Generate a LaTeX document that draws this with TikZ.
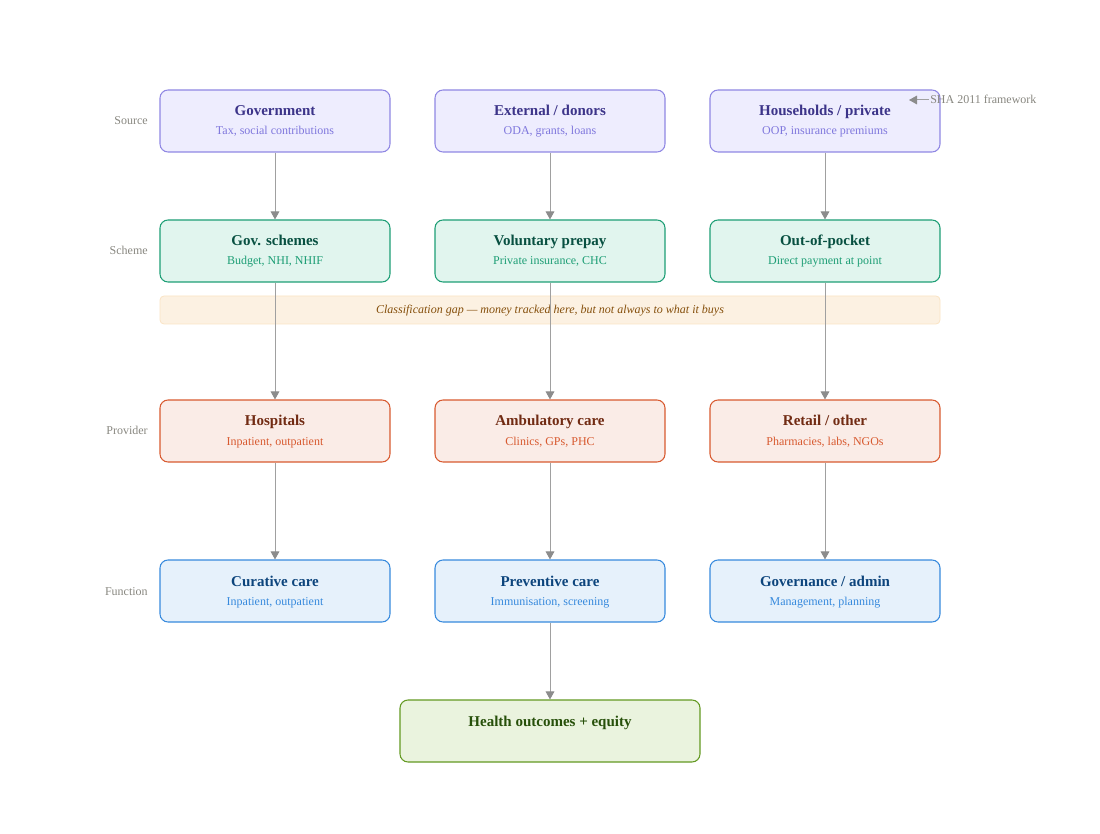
\documentclass[tikz,border=0pt]{standalone}
\usepackage{fontspec}
\setmainfont{Liberation Serif}
\usetikzlibrary{arrows.meta}
\definecolor{srcfill}{HTML}{EEEDFE}\definecolor{srcdraw}{HTML}{8F87E3}\definecolor{srctitle}{HTML}{3C3489}\definecolor{srcsub}{HTML}{7F77DD}
\definecolor{schfill}{HTML}{E1F5EE}\definecolor{schdraw}{HTML}{1D9E75}\definecolor{schtitle}{HTML}{085041}\definecolor{schsub}{HTML}{1D9E75}
\definecolor{provfill}{HTML}{FAECE7}\definecolor{provdraw}{HTML}{D85A30}\definecolor{provtitle}{HTML}{712B13}\definecolor{provsub}{HTML}{D85A30}
\definecolor{funfill}{HTML}{E6F1FB}\definecolor{fundraw}{HTML}{378ADD}\definecolor{funtitle}{HTML}{0C447C}\definecolor{funsub}{HTML}{378ADD}
\definecolor{outfill}{HTML}{EAF3DE}\definecolor{outdraw}{HTML}{639922}\definecolor{outtitle}{HTML}{27500A}\definecolor{outsub}{HTML}{639922}
\definecolor{gapfill}{HTML}{FCF1E2}\definecolor{gapdraw}{HTML}{FAE3C4}\definecolor{gaptext}{HTML}{854F0B}
\definecolor{lblgray}{HTML}{888780}\definecolor{arrgray}{HTML}{8C8C8C}\definecolor{linegray}{HTML}{A0A0A0}
\tikzset{
  box/.style={rounded corners=6pt, line width=0.8pt, minimum width=172.5pt, minimum height=46.5pt, inner sep=0pt},
  ttl/.style={font=\fontsize{11.25}{13}\selectfont\bfseries, anchor=base, inner sep=0pt},
  sub/.style={font=\fontsize{9}{11}\selectfont, anchor=base, inner sep=0pt},
  lbl/.style={font=\fontsize{9}{11}\selectfont, text=lblgray, anchor=base east, inner sep=0pt},
  flow/.style={draw=linegray, line width=0.75pt, -{Triangle[length=6pt,width=6.5pt,color=arrgray]}},
}
% #1 name, #2 colour prefix, #3 centre x, #4 top y, #5 title, #6 subtitle
\newcommand{\mybox}[6]{%
  \node[box, draw=#2draw, fill=#2fill] (#1) at (#3,#4+31) {};
  \node[ttl, text=#2title] (#1t) at (#3,#4+26) {#5};
  \node[sub, text=#2sub] (#1s) at (#3,#4+45) {#6};
}
\begin{document}
\begin{tikzpicture}[x=0.75pt,y=-0.75pt]
\useasboundingbox (0,0) rectangle (1100,834);
% gap band
\node[draw=gapdraw, fill=gapfill, rounded corners=3pt, line width=0.6pt, minimum width=585pt, minimum height=21pt, inner sep=0pt] (gap) at (550,310) {};
\node[font=\fontsize{9}{11}\selectfont\itshape, text=gaptext, anchor=base, inner sep=0pt] (gaptxt) at (550,313.5) {Classification gap — money tracked here, but not always to what it buys};
% row labels
\node[lbl] (lsrc) at (148,125) {Source};
\node[lbl] (lsch) at (148,255) {Scheme};
\node[lbl] (lprov) at (148,435) {Provider};
\node[lbl] (lfun) at (148,595) {Function};
% boxes
\mybox{gov}{src}{275}{90}{Government}{Tax, social contributions}
\mybox{ext}{src}{550}{90}{External / donors}{ODA, grants, loans}
\mybox{hh}{src}{825}{90}{Households / private}{OOP, insurance premiums}
\mybox{gs}{sch}{275}{220}{Gov. schemes}{Budget, NHI, NHIF}
\mybox{vp}{sch}{550}{220}{Voluntary prepay}{Private insurance, CHC}
\mybox{oop}{sch}{825}{220}{Out-of-pocket}{Direct payment at point}
\mybox{hos}{prov}{275}{400}{Hospitals}{Inpatient, outpatient}
\mybox{amb}{prov}{550}{400}{Ambulatory care}{Clinics, GPs, PHC}
\mybox{ret}{prov}{825}{400}{Retail / other}{Pharmacies, labs, NGOs}
\mybox{cur}{fun}{275}{560}{Curative care}{Inpatient, outpatient}
\mybox{pre}{fun}{550}{560}{Preventive care}{Immunisation, screening}
\mybox{gva}{fun}{825}{560}{Governance / admin}{Management, planning}
\node[box, draw=outdraw, fill=outfill, minimum width=225pt] (out) at (550,731) {};
\node[ttl, text=outtitle] (outt) at (550,726) {Health outcomes + equity};
% connectors
\draw[flow] (gov) -- (gs);
\draw[flow] (ext) -- (vp);
\draw[flow] (hh) -- (oop);
\draw[flow] (gs) -- (hos);
\draw[flow] (vp) -- (amb);
\draw[flow] (oop) -- (ret);
\draw[flow] (hos) -- (cur);
\draw[flow] (amb) -- (pre);
\draw[flow] (ret) -- (gva);
\draw[flow] (pre) -- (out);
% annotation
\node[font=\fontsize{9}{11}\selectfont, text=lblgray, anchor=base west, inner sep=0pt] (sha) at (930,104) {SHA 2011 framework};
\coordinate (shastart) at (929,100);
\coordinate (shatip) at (909,100);
\draw[flow] (shastart) -- (shatip);
\end{tikzpicture}
\end{document}
